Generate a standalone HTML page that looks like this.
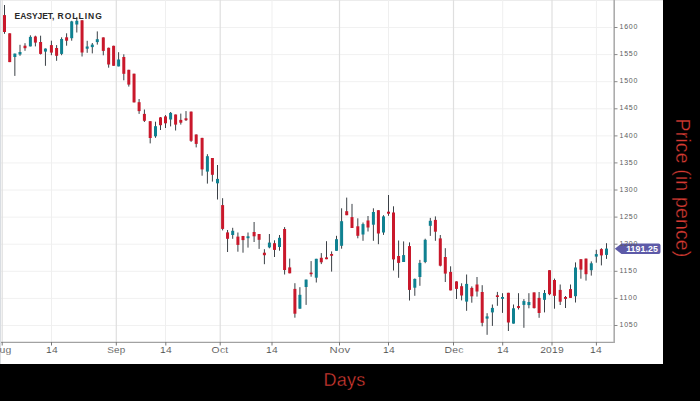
<!DOCTYPE html>
<html><head><meta charset="utf-8"><style>
html,body{margin:0;padding:0;}
body{width:700px;height:401px;background:#000;position:relative;overflow:hidden;font-family:"Liberation Sans",sans-serif;}
#plot{position:absolute;left:0;top:0;width:663px;height:364px;background:#fff;overflow:hidden;}
#plot svg{position:absolute;left:0;top:0;}
#lb{position:absolute;left:0;top:0;width:1px;height:364px;background:#d9dde2;}
.xl{position:absolute;top:344.8px;-webkit-text-stroke:0.12px #fff;width:60px;text-align:center;font-size:9.9px;letter-spacing:0.2px;color:#4a4a4a;line-height:10px;}
.yl{position:absolute;left:619.5px;font-size:7px;letter-spacing:0.75px;color:#5c5c5c;line-height:10px;}
#title{position:absolute;left:0;top:10.9px;font-size:8.5px;font-weight:bold;color:#2a2a2a;line-height:10px;white-space:nowrap;}
#t1{position:absolute;left:14.6px;letter-spacing:-0.05px;}
#t2{position:absolute;left:57.5px;letter-spacing:1.0px;}
#badge{position:absolute;left:614px;top:243px;}
#badgetxt{position:absolute;left:623px;top:244px;width:38px;text-align:center;font-size:8.8px;font-weight:bold;color:#fff;line-height:11px;letter-spacing:0.05px;}
#days{position:absolute;left:323.5px;top:369px;font-size:18px;letter-spacing:0.25px;color:#d63a32;-webkit-text-stroke:0.35px #000;line-height:22px;white-space:nowrap;}
#price{position:absolute;left:683px;top:187.5px;font-size:19.6px;letter-spacing:0.1px;color:#d63a32;-webkit-text-stroke:0.35px #000;line-height:22px;white-space:nowrap;transform:translate(-50%,-50%) rotate(90deg);}
</style></head><body>
<div id="plot">
<svg width="663" height="364" viewBox="0 0 663 364">
<line x1="0" y1="27.50" x2="612" y2="27.50" stroke="#f1f1f1" stroke-width="1"/><line x1="0" y1="54.59" x2="612" y2="54.59" stroke="#f1f1f1" stroke-width="1"/><line x1="0" y1="81.68" x2="612" y2="81.68" stroke="#f1f1f1" stroke-width="1"/><line x1="0" y1="108.77" x2="612" y2="108.77" stroke="#f1f1f1" stroke-width="1"/><line x1="0" y1="135.86" x2="612" y2="135.86" stroke="#f1f1f1" stroke-width="1"/><line x1="0" y1="162.95" x2="612" y2="162.95" stroke="#f1f1f1" stroke-width="1"/><line x1="0" y1="190.04" x2="612" y2="190.04" stroke="#f1f1f1" stroke-width="1"/><line x1="0" y1="217.13" x2="612" y2="217.13" stroke="#f1f1f1" stroke-width="1"/><line x1="0" y1="244.22" x2="612" y2="244.22" stroke="#f1f1f1" stroke-width="1"/><line x1="0" y1="271.31" x2="612" y2="271.31" stroke="#f1f1f1" stroke-width="1"/><line x1="0" y1="298.40" x2="612" y2="298.40" stroke="#f1f1f1" stroke-width="1"/><line x1="0" y1="325.49" x2="612" y2="325.49" stroke="#f1f1f1" stroke-width="1"/><line x1="0" y1="0.5" x2="663" y2="0.5" stroke="#ececec" stroke-width="1"/><line x1="51.5" y1="0" x2="51.5" y2="342" stroke="#efefef" stroke-width="1"/><line x1="165.5" y1="0" x2="165.5" y2="342" stroke="#efefef" stroke-width="1"/><line x1="272.0" y1="0" x2="272.0" y2="342" stroke="#efefef" stroke-width="1"/><line x1="388.5" y1="0" x2="388.5" y2="342" stroke="#efefef" stroke-width="1"/><line x1="502.7" y1="0" x2="502.7" y2="342" stroke="#efefef" stroke-width="1"/><line x1="596.4" y1="0" x2="596.4" y2="342" stroke="#efefef" stroke-width="1"/><line x1="2.2" y1="0" x2="2.2" y2="342" stroke="#dfdfdf" stroke-width="1.2"/><line x1="116.3" y1="0" x2="116.3" y2="342" stroke="#dfdfdf" stroke-width="1.2"/><line x1="220.2" y1="0" x2="220.2" y2="342" stroke="#dfdfdf" stroke-width="1.2"/><line x1="339.5" y1="0" x2="339.5" y2="342" stroke="#dfdfdf" stroke-width="1.2"/><line x1="453.5" y1="0" x2="453.5" y2="342" stroke="#dfdfdf" stroke-width="1.2"/><line x1="552.0" y1="0" x2="552.0" y2="342" stroke="#dfdfdf" stroke-width="1.2"/>
<g stroke="#3b4046" stroke-width="1"><line x1="4.5" y1="5.0" x2="4.5" y2="33.8"/><line x1="9.7" y1="33.3" x2="9.7" y2="62.1"/><line x1="14.85" y1="53.6" x2="14.85" y2="75.9"/><line x1="20.0" y1="44.8" x2="20.0" y2="55.8"/><line x1="25.0" y1="43.2" x2="25.0" y2="50.8"/><line x1="30.4" y1="35.3" x2="30.4" y2="46.4"/><line x1="35.4" y1="35.7" x2="35.4" y2="46.4"/><line x1="40.6" y1="35.7" x2="40.6" y2="54.5"/><line x1="45.45" y1="48.4" x2="45.45" y2="65.8"/><line x1="51.4" y1="40.7" x2="51.4" y2="55.2"/><line x1="56.6" y1="45.1" x2="56.6" y2="60.8"/><line x1="61.6" y1="37.3" x2="61.6" y2="55.2"/><line x1="66.6" y1="33.3" x2="66.6" y2="45.7"/><line x1="71.7" y1="20.8" x2="71.7" y2="40.7"/><line x1="76.8" y1="17.0" x2="76.8" y2="32.5"/><line x1="82.05" y1="20.1" x2="82.05" y2="56.5"/><line x1="87.2" y1="40.8" x2="87.2" y2="52.8"/><line x1="92.3" y1="43.0" x2="92.3" y2="53.4"/><line x1="97.3" y1="31.4" x2="97.3" y2="44.6"/><line x1="103.3" y1="37.4" x2="103.3" y2="55.3"/><line x1="108.65" y1="47.6" x2="108.65" y2="67.7"/><line x1="113.6" y1="45.7" x2="113.6" y2="65.8"/><line x1="118.6" y1="52.2" x2="118.6" y2="66.4"/><line x1="123.8" y1="54.3" x2="123.8" y2="80.3"/><line x1="128.8" y1="69.8" x2="128.8" y2="86.6"/><line x1="134.05" y1="73.7" x2="134.05" y2="102.4"/><line x1="139.1" y1="99.0" x2="139.1" y2="113.9"/><line x1="144.4" y1="109.5" x2="144.4" y2="122.0"/><line x1="150.2" y1="121.2" x2="150.2" y2="143.4"/><line x1="155.5" y1="121.7" x2="155.5" y2="137.8"/><line x1="160.5" y1="117.0" x2="160.5" y2="130.0"/><line x1="165.5" y1="115.1" x2="165.5" y2="128.0"/><line x1="170.6" y1="112.0" x2="170.6" y2="126.4"/><line x1="175.6" y1="114.5" x2="175.6" y2="130.5"/><line x1="180.8" y1="113.6" x2="180.8" y2="124.6"/><line x1="186.0" y1="111.1" x2="186.0" y2="121.0"/><line x1="191.1" y1="111.6" x2="191.1" y2="141.9"/><line x1="196.2" y1="134.4" x2="196.2" y2="147.4"/><line x1="202.1" y1="137.8" x2="202.1" y2="175.7"/><line x1="207.4" y1="154.2" x2="207.4" y2="183.6"/><line x1="212.4" y1="158.0" x2="212.4" y2="181.6"/><line x1="217.5" y1="165.0" x2="217.5" y2="199.5"/><line x1="222.6" y1="198.2" x2="222.6" y2="230.4"/><line x1="227.55" y1="230.0" x2="227.55" y2="252.0"/><line x1="232.7" y1="227.8" x2="232.7" y2="238.8"/><line x1="237.9" y1="232.5" x2="237.9" y2="251.7"/><line x1="243.0" y1="235.9" x2="243.0" y2="252.7"/><line x1="248.0" y1="232.5" x2="248.0" y2="247.6"/><line x1="254.1" y1="222.0" x2="254.1" y2="242.0"/><line x1="259.1" y1="234.0" x2="259.1" y2="248.9"/><line x1="264.4" y1="249.2" x2="264.4" y2="264.2"/><line x1="269.4" y1="234.0" x2="269.4" y2="248.3"/><line x1="274.5" y1="240.3" x2="274.5" y2="257.0"/><line x1="279.5" y1="235.0" x2="279.5" y2="250.7"/><line x1="284.6" y1="227.1" x2="284.6" y2="274.5"/><line x1="289.7" y1="258.6" x2="289.7" y2="273.3"/><line x1="294.9" y1="283.2" x2="294.9" y2="317.7"/><line x1="299.9" y1="287.2" x2="299.9" y2="308.7"/><line x1="306.1" y1="279.6" x2="306.1" y2="304.9"/><line x1="311.1" y1="261.1" x2="311.1" y2="276.7"/><line x1="316.3" y1="258.8" x2="316.3" y2="282.5"/><line x1="321.3" y1="253.1" x2="321.3" y2="264.1"/><line x1="326.5" y1="241.2" x2="326.5" y2="259.2"/><line x1="331.6" y1="251.4" x2="331.6" y2="271.6"/><line x1="336.5" y1="235.8" x2="336.5" y2="250.8"/><line x1="341.6" y1="208.3" x2="341.6" y2="248.7"/><line x1="346.7" y1="197.6" x2="346.7" y2="215.2"/><line x1="352.0" y1="203.9" x2="352.0" y2="228.0"/><line x1="357.8" y1="218.3" x2="357.8" y2="238.3"/><line x1="363.0" y1="222.5" x2="363.0" y2="240.8"/><line x1="368.0" y1="216.0" x2="368.0" y2="231.5"/><line x1="373.4" y1="208.3" x2="373.4" y2="240.8"/><line x1="378.4" y1="210.2" x2="378.4" y2="244.2"/><line x1="383.5" y1="215.2" x2="383.5" y2="234.9"/><line x1="388.5" y1="195.0" x2="388.5" y2="215.8"/><line x1="393.5" y1="206.3" x2="393.5" y2="270.5"/><line x1="398.6" y1="240.5" x2="398.6" y2="277.8"/><line x1="403.6" y1="241.4" x2="403.6" y2="262.0"/><line x1="409.5" y1="242.4" x2="409.5" y2="300.5"/><line x1="414.8" y1="278.5" x2="414.8" y2="295.8"/><line x1="419.9" y1="259.9" x2="419.9" y2="285.8"/><line x1="425.2" y1="238.7" x2="425.2" y2="263.2"/><line x1="430.3" y1="217.9" x2="430.3" y2="235.9"/><line x1="435.4" y1="216.4" x2="435.4" y2="240.8"/><line x1="440.3" y1="235.0" x2="440.3" y2="266.4"/><line x1="445.3" y1="248.2" x2="445.3" y2="282.0"/><line x1="450.6" y1="266.3" x2="450.6" y2="290.4"/><line x1="456.5" y1="281.3" x2="456.5" y2="299.0"/><line x1="461.6" y1="283.3" x2="461.6" y2="300.4"/><line x1="466.6" y1="274.5" x2="466.6" y2="310.8"/><line x1="471.8" y1="286.4" x2="471.8" y2="302.7"/><line x1="477.0" y1="277.0" x2="477.0" y2="296.6"/><line x1="482.2" y1="285.2" x2="482.2" y2="326.3"/><line x1="487.1" y1="313.2" x2="487.1" y2="334.8"/><line x1="492.4" y1="304.5" x2="492.4" y2="325.9"/><line x1="497.4" y1="291.9" x2="497.4" y2="305.8"/><line x1="502.5" y1="293.2" x2="502.5" y2="312.9"/><line x1="508.4" y1="292.8" x2="508.4" y2="331.0"/><line x1="513.5" y1="304.5" x2="513.5" y2="323.6"/><line x1="518.5" y1="293.2" x2="518.5" y2="309.5"/><line x1="523.9" y1="299.1" x2="523.9" y2="327.8"/><line x1="528.9" y1="293.2" x2="528.9" y2="308.3"/><line x1="534.1" y1="292.4" x2="534.1" y2="308.5"/><line x1="539.1" y1="292.0" x2="539.1" y2="317.8"/><line x1="544.5" y1="290.0" x2="544.5" y2="312.4"/><line x1="549.5" y1="270.2" x2="549.5" y2="295.2"/><line x1="554.5" y1="278.6" x2="554.5" y2="308.7"/><line x1="560.2" y1="284.5" x2="560.2" y2="305.0"/><line x1="565.5" y1="296.0" x2="565.5" y2="308.0"/><line x1="570.5" y1="284.5" x2="570.5" y2="297.9"/><line x1="575.5" y1="262.4" x2="575.5" y2="302.5"/><line x1="580.9" y1="259.2" x2="580.9" y2="278.7"/><line x1="586.0" y1="258.6" x2="586.0" y2="280.6"/><line x1="591.3" y1="261.4" x2="591.3" y2="275.6"/><line x1="596.3" y1="249.8" x2="596.3" y2="262.7"/><line x1="601.4" y1="248.2" x2="601.4" y2="265.4"/><line x1="606.5" y1="243.2" x2="606.5" y2="258.9"/></g><rect x="3.00" y="15.1" width="3.0" height="16.90" fill="#c9182b"/><rect x="8.20" y="33.3" width="3.0" height="28.80" fill="#c9182b"/><rect x="13.35" y="53.6" width="3.0" height="3.40" fill="#0f8191"/><rect x="18.50" y="52.0" width="3.0" height="2.50" fill="#0f8191"/><rect x="23.50" y="45.7" width="3.0" height="2.50" fill="#c9182b"/><rect x="28.90" y="36.9" width="3.0" height="9.50" fill="#0f8191"/><rect x="33.90" y="36.5" width="3.0" height="6.10" fill="#c9182b"/><rect x="39.10" y="42.0" width="3.0" height="11.90" fill="#c9182b"/><rect x="43.95" y="48.6" width="3.0" height="3.00" fill="#0f8191"/><rect x="49.90" y="45.1" width="3.0" height="7.50" fill="#c9182b"/><rect x="55.10" y="48.0" width="3.0" height="7.80" fill="#c9182b"/><rect x="60.10" y="39.0" width="3.0" height="14.90" fill="#0f8191"/><rect x="65.10" y="37.3" width="3.0" height="3.40" fill="#c9182b"/><rect x="70.20" y="21.4" width="3.0" height="16.80" fill="#0f8191"/><rect x="75.30" y="20.8" width="3.0" height="3.70" fill="#0f8191"/><rect x="80.55" y="20.3" width="3.0" height="32.20" fill="#c9182b"/><rect x="85.70" y="46.5" width="3.0" height="2.20" fill="#0f8191"/><rect x="90.80" y="44.6" width="3.0" height="2.50" fill="#0f8191"/><rect x="95.80" y="39.2" width="3.0" height="2.90" fill="#0f8191"/><rect x="101.80" y="37.4" width="3.0" height="13.50" fill="#c9182b"/><rect x="107.15" y="47.8" width="3.0" height="16.70" fill="#c9182b"/><rect x="112.10" y="45.8" width="3.0" height="20.00" fill="#c9182b"/><rect x="117.10" y="59.5" width="3.0" height="6.90" fill="#0f8191"/><rect x="122.30" y="57.0" width="3.0" height="16.80" fill="#c9182b"/><rect x="127.30" y="69.8" width="3.0" height="14.80" fill="#c9182b"/><rect x="132.55" y="73.7" width="3.0" height="28.70" fill="#c9182b"/><rect x="137.60" y="102.2" width="3.0" height="8.90" fill="#c9182b"/><rect x="142.90" y="113.9" width="3.0" height="6.90" fill="#c9182b"/><rect x="148.70" y="121.2" width="3.0" height="16.80" fill="#c9182b"/><rect x="154.00" y="126.2" width="3.0" height="10.10" fill="#0f8191"/><rect x="159.00" y="117.4" width="3.0" height="7.80" fill="#c9182b"/><rect x="164.00" y="116.4" width="3.0" height="6.90" fill="#c9182b"/><rect x="169.10" y="112.9" width="3.0" height="6.60" fill="#0f8191"/><rect x="174.10" y="114.5" width="3.0" height="10.10" fill="#c9182b"/><rect x="179.30" y="119.9" width="3.0" height="2.80" fill="#c9182b"/><rect x="184.50" y="118.3" width="3.0" height="1.90" fill="#c9182b"/><rect x="189.60" y="111.6" width="3.0" height="29.20" fill="#c9182b"/><rect x="194.70" y="134.5" width="3.0" height="9.40" fill="#c9182b"/><rect x="200.60" y="137.9" width="3.0" height="31.50" fill="#c9182b"/><rect x="205.90" y="156.2" width="3.0" height="15.40" fill="#0f8191"/><rect x="210.90" y="158.0" width="3.0" height="16.80" fill="#c9182b"/><rect x="216.00" y="178.9" width="3.0" height="4.40" fill="#0f8191"/><rect x="221.10" y="205.1" width="3.0" height="23.80" fill="#c9182b"/><rect x="226.05" y="232.4" width="3.0" height="6.40" fill="#c9182b"/><rect x="231.20" y="230.8" width="3.0" height="4.20" fill="#0f8191"/><rect x="236.40" y="236.6" width="3.0" height="8.30" fill="#c9182b"/><rect x="241.50" y="236.0" width="3.0" height="4.10" fill="#c9182b"/><rect x="246.50" y="236.3" width="3.0" height="1.90" fill="#0f8191"/><rect x="252.60" y="232.0" width="3.0" height="4.30" fill="#c9182b"/><rect x="257.60" y="234.0" width="3.0" height="5.80" fill="#c9182b"/><rect x="262.90" y="252.7" width="3.0" height="2.50" fill="#c9182b"/><rect x="267.90" y="242.6" width="3.0" height="4.80" fill="#0f8191"/><rect x="273.00" y="243.2" width="3.0" height="6.70" fill="#c9182b"/><rect x="278.00" y="237.8" width="3.0" height="9.20" fill="#0f8191"/><rect x="283.10" y="229.0" width="3.0" height="41.00" fill="#c9182b"/><rect x="288.20" y="267.4" width="3.0" height="5.90" fill="#c9182b"/><rect x="293.40" y="288.9" width="3.0" height="24.80" fill="#c9182b"/><rect x="298.40" y="294.8" width="3.0" height="13.90" fill="#0f8191"/><rect x="304.60" y="279.6" width="3.0" height="7.40" fill="#0f8191"/><rect x="309.60" y="272.6" width="3.0" height="1.60" fill="#c9182b"/><rect x="314.80" y="258.8" width="3.0" height="18.90" fill="#0f8191"/><rect x="319.80" y="257.8" width="3.0" height="4.50" fill="#c9182b"/><rect x="325.00" y="257.4" width="3.0" height="1.80" fill="#c9182b"/><rect x="330.10" y="254.0" width="3.0" height="1.80" fill="#c9182b"/><rect x="335.00" y="239.2" width="3.0" height="11.60" fill="#0f8191"/><rect x="340.10" y="221.2" width="3.0" height="24.60" fill="#0f8191"/><rect x="345.20" y="211.2" width="3.0" height="4.00" fill="#c9182b"/><rect x="350.50" y="217.1" width="3.0" height="10.90" fill="#c9182b"/><rect x="356.30" y="226.3" width="3.0" height="9.50" fill="#c9182b"/><rect x="361.50" y="224.1" width="3.0" height="10.40" fill="#0f8191"/><rect x="366.50" y="220.5" width="3.0" height="7.00" fill="#c9182b"/><rect x="371.90" y="212.0" width="3.0" height="12.70" fill="#0f8191"/><rect x="376.90" y="210.2" width="3.0" height="23.30" fill="#c9182b"/><rect x="382.00" y="216.4" width="3.0" height="16.10" fill="#0f8191"/><rect x="387.00" y="211.7" width="3.0" height="2.00" fill="#c9182b"/><rect x="392.00" y="212.5" width="3.0" height="46.90" fill="#c9182b"/><rect x="397.10" y="256.0" width="3.0" height="6.90" fill="#c9182b"/><rect x="402.10" y="255.1" width="3.0" height="6.90" fill="#0f8191"/><rect x="408.00" y="246.1" width="3.0" height="43.80" fill="#c9182b"/><rect x="413.30" y="278.9" width="3.0" height="8.80" fill="#0f8191"/><rect x="418.40" y="262.9" width="3.0" height="14.10" fill="#0f8191"/><rect x="423.70" y="239.8" width="3.0" height="22.20" fill="#0f8191"/><rect x="428.80" y="220.8" width="3.0" height="5.00" fill="#0f8191"/><rect x="433.90" y="219.9" width="3.0" height="11.80" fill="#c9182b"/><rect x="438.80" y="238.4" width="3.0" height="27.30" fill="#c9182b"/><rect x="443.80" y="257.0" width="3.0" height="16.60" fill="#c9182b"/><rect x="449.10" y="271.9" width="3.0" height="18.50" fill="#c9182b"/><rect x="455.00" y="281.4" width="3.0" height="7.50" fill="#c9182b"/><rect x="460.10" y="286.2" width="3.0" height="9.30" fill="#c9182b"/><rect x="465.10" y="283.9" width="3.0" height="17.70" fill="#0f8191"/><rect x="470.30" y="287.9" width="3.0" height="8.40" fill="#c9182b"/><rect x="475.50" y="284.5" width="3.0" height="7.00" fill="#c9182b"/><rect x="480.70" y="292.0" width="3.0" height="30.80" fill="#c9182b"/><rect x="485.60" y="316.4" width="3.0" height="2.20" fill="#0f8191"/><rect x="490.90" y="307.9" width="3.0" height="4.50" fill="#0f8191"/><rect x="495.90" y="295.3" width="3.0" height="1.70" fill="#c9182b"/><rect x="501.00" y="297.0" width="3.0" height="1.80" fill="#0f8191"/><rect x="506.90" y="292.8" width="3.0" height="29.70" fill="#c9182b"/><rect x="512.00" y="308.3" width="3.0" height="15.30" fill="#0f8191"/><rect x="517.00" y="306.1" width="3.0" height="1.80" fill="#c9182b"/><rect x="522.40" y="301.1" width="3.0" height="3.80" fill="#0f8191"/><rect x="527.40" y="302.0" width="3.0" height="3.10" fill="#0f8191"/><rect x="532.60" y="292.4" width="3.0" height="15.70" fill="#c9182b"/><rect x="537.60" y="297.9" width="3.0" height="15.10" fill="#c9182b"/><rect x="543.00" y="293.0" width="3.0" height="6.80" fill="#0f8191"/><rect x="548.00" y="270.2" width="3.0" height="24.00" fill="#c9182b"/><rect x="553.00" y="280.0" width="3.0" height="15.80" fill="#c9182b"/><rect x="558.70" y="289.9" width="3.0" height="11.80" fill="#c9182b"/><rect x="564.00" y="297.0" width="3.0" height="1.90" fill="#c9182b"/><rect x="569.00" y="289.1" width="3.0" height="8.80" fill="#c9182b"/><rect x="574.00" y="267.5" width="3.0" height="28.70" fill="#0f8191"/><rect x="579.40" y="259.2" width="3.0" height="10.40" fill="#c9182b"/><rect x="584.50" y="258.6" width="3.0" height="15.60" fill="#c9182b"/><rect x="589.80" y="263.3" width="3.0" height="6.90" fill="#0f8191"/><rect x="594.80" y="254.1" width="3.0" height="2.50" fill="#0f8191"/><rect x="599.90" y="249.1" width="3.0" height="6.30" fill="#c9182b"/><rect x="605.00" y="248.6" width="3.0" height="6.30" fill="#0f8191"/>
<line x1="0" y1="342.3" x2="614.3" y2="342.3" stroke="#a2a2a2" stroke-width="1.25"/><line x1="614.2" y1="0" x2="614.2" y2="342.9" stroke="#acacac" stroke-width="1.6"/><line x1="2.2" y1="342" x2="2.2" y2="345.5" stroke="#777" stroke-width="1"/><line x1="51.5" y1="342" x2="51.5" y2="345.5" stroke="#777" stroke-width="1"/><line x1="116.3" y1="342" x2="116.3" y2="345.5" stroke="#777" stroke-width="1"/><line x1="165.8" y1="342" x2="165.8" y2="345.5" stroke="#777" stroke-width="1"/><line x1="220.2" y1="342" x2="220.2" y2="345.5" stroke="#777" stroke-width="1"/><line x1="272.0" y1="342" x2="272.0" y2="345.5" stroke="#777" stroke-width="1"/><line x1="339.5" y1="342" x2="339.5" y2="345.5" stroke="#777" stroke-width="1"/><line x1="388.5" y1="342" x2="388.5" y2="345.5" stroke="#777" stroke-width="1"/><line x1="453.5" y1="342" x2="453.5" y2="345.5" stroke="#777" stroke-width="1"/><line x1="502.7" y1="342" x2="502.7" y2="345.5" stroke="#777" stroke-width="1"/><line x1="552.0" y1="342" x2="552.0" y2="345.5" stroke="#777" stroke-width="1"/><line x1="596.4" y1="342" x2="596.4" y2="345.5" stroke="#777" stroke-width="1"/><line x1="614" y1="27.5" x2="617.5" y2="27.5" stroke="#8a8a8a" stroke-width="1"/><line x1="614" y1="54.6" x2="617.5" y2="54.6" stroke="#8a8a8a" stroke-width="1"/><line x1="614" y1="81.7" x2="617.5" y2="81.7" stroke="#8a8a8a" stroke-width="1"/><line x1="614" y1="108.8" x2="617.5" y2="108.8" stroke="#8a8a8a" stroke-width="1"/><line x1="614" y1="135.9" x2="617.5" y2="135.9" stroke="#8a8a8a" stroke-width="1"/><line x1="614" y1="162.9" x2="617.5" y2="162.9" stroke="#8a8a8a" stroke-width="1"/><line x1="614" y1="190.0" x2="617.5" y2="190.0" stroke="#8a8a8a" stroke-width="1"/><line x1="614" y1="217.1" x2="617.5" y2="217.1" stroke="#8a8a8a" stroke-width="1"/><line x1="614" y1="244.2" x2="617.5" y2="244.2" stroke="#8a8a8a" stroke-width="1"/><line x1="614" y1="271.3" x2="617.5" y2="271.3" stroke="#8a8a8a" stroke-width="1"/><line x1="614" y1="298.4" x2="617.5" y2="298.4" stroke="#8a8a8a" stroke-width="1"/><line x1="614" y1="325.5" x2="617.5" y2="325.5" stroke="#8a8a8a" stroke-width="1"/>
<path d="M614.8,248.7 L621.5,243.5 L658.5,243.5 Q660.5,243.5 660.5,245.5 L660.5,252 Q660.5,254 658.5,254 L621.5,254 Z" fill="#5d5aa8"/>
</svg>
<div id="lb"></div>
<div id="title"><span id="t1">EASYJET,</span><span id="t2">ROLLING</span></div>
<div class="xl" style="left:-27.8px;transform:scaleX(1.05)">Aug</div><div class="xl" style="left:21.5px;transform:scaleX(1.05)">14</div><div class="xl" style="left:86.3px;transform:scaleX(1.0)">Sep</div><div class="xl" style="left:135.8px;transform:scaleX(1.05)">14</div><div class="xl" style="left:190.2px;transform:scaleX(1.05)">Oct</div><div class="xl" style="left:242.0px;transform:scaleX(1.05)">14</div><div class="xl" style="left:309.5px;transform:scaleX(1.15)">Nov</div><div class="xl" style="left:358.5px;transform:scaleX(1.05)">14</div><div class="xl" style="left:423.5px;transform:scaleX(1.05)">Dec</div><div class="xl" style="left:472.7px;transform:scaleX(1.05)">14</div><div class="xl" style="left:522.0px;transform:scaleX(1.04)">2019</div><div class="xl" style="left:566.4px;transform:scaleX(1.05)">14</div>
<div class="yl" style="top:22.1px">1600</div><div class="yl" style="top:49.2px">1550</div><div class="yl" style="top:76.3px">1500</div><div class="yl" style="top:103.4px">1450</div><div class="yl" style="top:130.5px">1400</div><div class="yl" style="top:157.5px">1350</div><div class="yl" style="top:184.6px">1300</div><div class="yl" style="top:211.7px">1250</div><div class="yl" style="top:238.8px">1200</div><div class="yl" style="top:265.9px">1150</div><div class="yl" style="top:293.0px">1100</div><div class="yl" style="top:320.1px">1050</div>
<div id="badgetxt">1191.25</div>
</div>
<div id="days">Days</div>
<div id="price">Price (in pence)</div>
</body></html>
